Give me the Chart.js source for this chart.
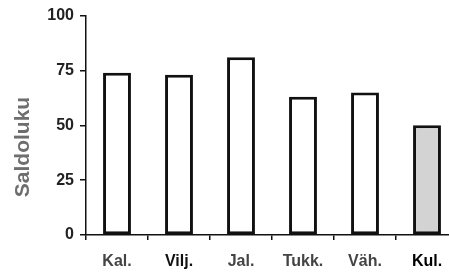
<!DOCTYPE html>
<html>
<head>
<meta charset="utf-8">
<script src="https://cdn.jsdelivr.net/npm/chart.js@4"></script>
<style>
  html, body { margin: 0; padding: 0; background: #fff; overflow: hidden; }
  #wrap { width: 462px; height: 274px; }
</style>
</head>
<body>
<div id="wrap"><canvas id="saldo-chart" width="462" height="274"></canvas></div>
<script>
const saldoChart = document.getElementById("saldo-chart");

const labels = ["Kal.", "Vilj.", "Jal.", "Tukk.", "Väh.", "Kul."];
const saldo = [74, 73, 81, 63, 65, 50];
const yTicks = [0, 25, 50, 75, 100];
const yTitle = "Saldoluku";
const fills = ["#ffffff", "#ffffff", "#ffffff", "#ffffff", "#ffffff", "#d3d3d3"];
const labelColors = ["#444", "#111", "#444", "#444", "#444", "#000"];

// axis title sits a bit below the middle of the axis in the original
const sideTitle = {
  id: "sideTitle",
  afterDraw(chart) {
    const ctx = chart.ctx;
    ctx.save();
    ctx.translate(23, 147);
    ctx.rotate(-Math.PI / 2);
    ctx.font = "bold 21px 'Liberation Sans'";
    ctx.fillStyle = "#6e6e6e";
    ctx.textAlign = "center";
    ctx.textBaseline = "middle";
    ctx.fillText(yTitle, 0, 0);
    ctx.restore();
  },
};

new Chart(saldoChart, {
  type: "bar",
  data: {
    labels: labels,
    datasets: [
      {
        label: yTitle,
        data: saldo,
        backgroundColor: fills,
        borderColor: "#111",
        borderWidth: 3,
        borderSkipped: false,
        barPercentage: 0.45,
        categoryPercentage: 1,
      },
    ],
  },
  options: {
    responsive: false,
    animation: false,
    layout: { padding: { top: 15, right: 4, left: 0, bottom: 0 } },
    plugins: { legend: { display: false }, tooltip: { enabled: false } },
    scales: {
      x: {
        grid: { drawOnChartArea: false, tickLength: 5, color: "#111", lineWidth: 1.5 },
        border: { color: "#111", width: 1.5 },
        ticks: {
          color: labelColors,
          padding: 12,
          font: { family: "Liberation Sans", size: 16, weight: "bold" },
        },
        afterFit: (scale) => { scale.height = 39; },
      },
      y: {
        min: 0,
        max: 100,
        afterBuildTicks: (scale) => { scale.ticks = yTicks.map(v => ({ value: v })); },
        grid: { drawOnChartArea: false, tickLength: 6, color: "#111", lineWidth: 1.5 },
        border: { color: "#111", width: 1.5 },
        ticks: {
          color: "#222",
          padding: 6,
          font: { family: "Liberation Sans", size: 16, weight: "bold" },
        },
        afterFit: (scale) => { scale.width = 86; },
      },
    },
  },
  plugins: [sideTitle],
});
</script>
</body>
</html>
